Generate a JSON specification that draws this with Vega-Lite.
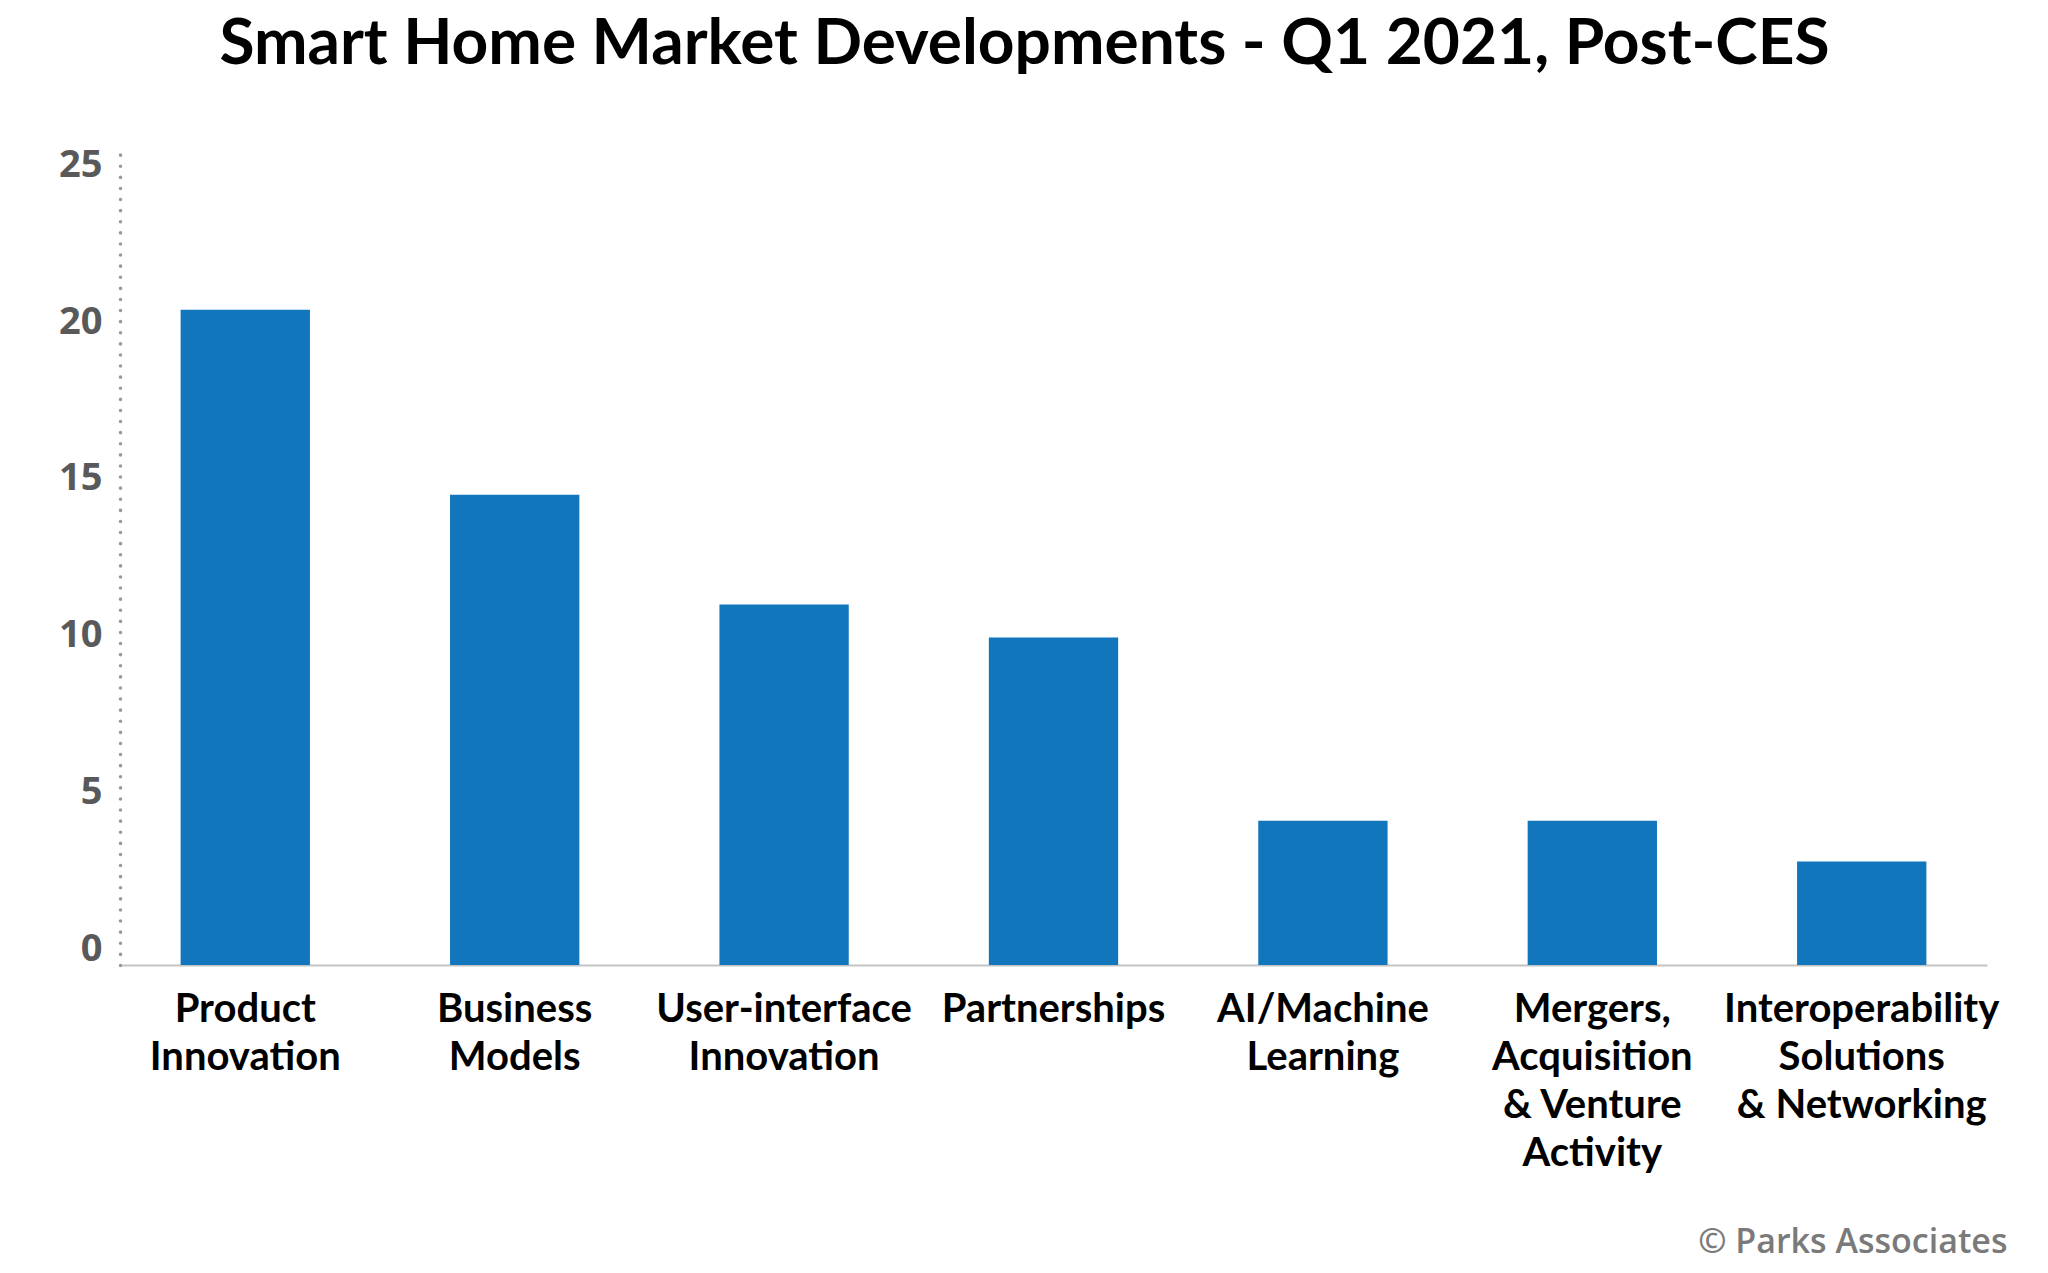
{
  "$schema": "https://vega.github.io/schema/vega-lite/v6.json",
  "width": 1867,
  "height": 815,
  "autosize": {"type": "none"},
  "padding": {"left": 120, "top": 150, "right": 61, "bottom": 308},
  "background": "white",
  "title": {
    "text": "Smart Home Market Developments - Q1 2021, Post-CES",
    "font": "Lato",
    "fontWeight": "bold",
    "fontSize": 64,
    "color": "#000000",
    "anchor": "middle",
    "frame": "group",
    "dx": -29,
    "offset": 69
  },
  "data": {
    "values": [
      {"category": "Product\nInnovation", "value": 20.9},
      {"category": "Business\nModels", "value": 15.0},
      {"category": "User-interface\nInnovation", "value": 11.5},
      {"category": "Partnerships", "value": 10.45},
      {"category": "AI/Machine\nLearning", "value": 4.6},
      {"category": "Mergers,\nAcquisition\n& Venture\nActivity", "value": 4.6},
      {"category": "Interoperability\nSolutions\n& Networking", "value": 3.3}
    ]
  },
  "mark": {"type": "bar", "color": "#1176bc"},
  "encoding": {
    "x": {
      "field": "category",
      "type": "nominal",
      "sort": null,
      "scale": {"paddingInner": 0.52, "paddingOuter": 0.225},
      "axis": {
        "title": "© Parks Associates",
        "titleFont": "Open Sans",
        "titleFontWeight": 600,
        "titleFontSize": 34,
        "titleColor": "#7a7a7a",
        "titleAnchor": "end",
        "titleAlign": "right",
        "titleBaseline": "top",
        "titleX": 1887,
        "titleY": 260,
        "labelAngle": 0,
        "labelExpr": "split(datum.label, '\\n')",
        "labelFont": "Lato",
        "labelFontWeight": "bold",
        "labelFontSize": 40,
        "labelLineHeight": 48,
        "labelColor": "#000000",
        "labelPadding": 24,
        "labelBaseline": "top",
        "labelLimit": 400,
        "ticks": false,
        "domainColor": "#c4c4c4",
        "domainWidth": 2
      }
    },
    "y": {
      "field": "value",
      "type": "quantitative",
      "scale": {"domain": [0, 26], "nice": false},
      "axis": {
        "title": null,
        "values": [0, 5, 10, 15, 20, 25],
        "grid": false,
        "ticks": false,
        "labelFont": "Open Sans",
        "labelFontWeight": "bold",
        "labelFontSize": 38,
        "labelColor": "#595959",
        "labelPadding": 18,
        "labelOffset": -16,
        "domainColor": "#999999",
        "domainWidth": 3.5,
        "domainDash": [0.1, 11],
        "domainCap": "round"
      }
    }
  },
  "config": {"view": {"stroke": null}}
}
